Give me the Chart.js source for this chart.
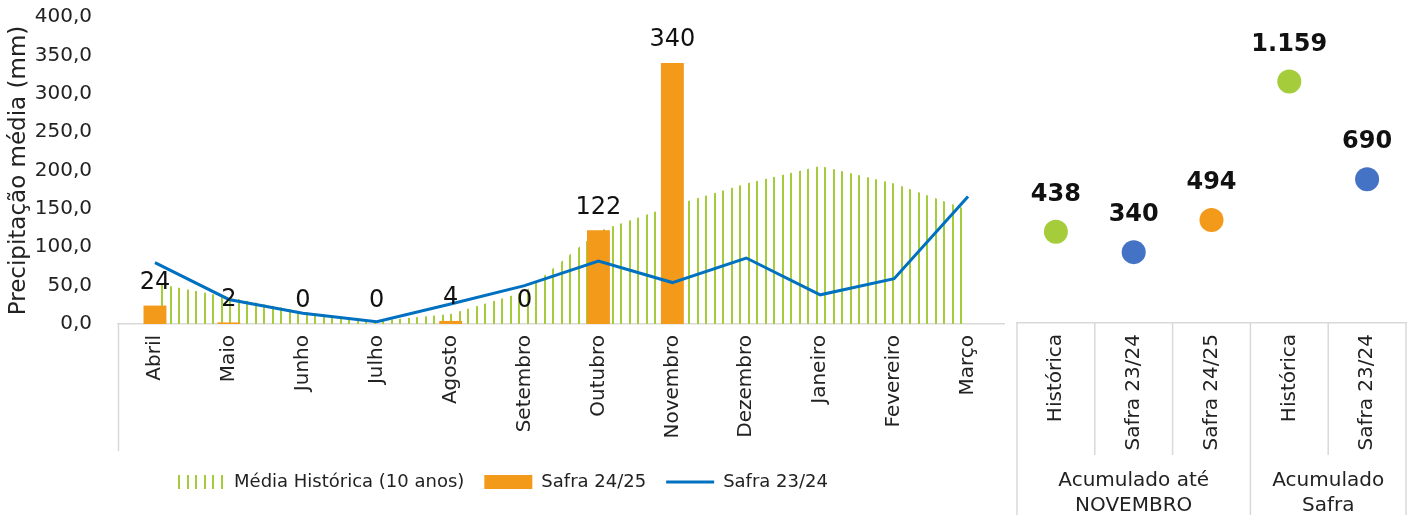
<!DOCTYPE html>
<html>
<head>
<meta charset="utf-8">
<script src="https://cdn.jsdelivr.net/npm/chart.js@4.4.1/dist/chart.umd.min.js"></script>
<style>
    body { margin: 0; background: #fff; }
    #wrap { position: relative; width: 1418px; height: 520px; }
    #leftBox { position: absolute; left: 0; top: 0; width: 1005px; height: 520px; }
    #rightBox { position: absolute; left: 1005px; top: 0; width: 413px; height: 520px; }
</style>
</head>
<body>
<div id="wrap">
    <div id="leftBox"><canvas id="monthChart"></canvas></div>
    <div id="rightBox"><canvas id="accChart"></canvas></div>
</div>
<script>
const months = ["Abril", "Maio", "Junho", "Julho", "Agosto", "Setembro", "Outubro", "Novembro", "Dezembro", "Janeiro", "Fevereiro", "Março"];
const mediaHistorica = [53, 35, 16, 4, 13, 42, 121, 154, 183, 206, 183, 149];
const safra2425 = [24, 2, 0, 0, 4, 0, 122, 340];
const safra2324 = [80, 32, 14, 3, 26, 50, 82, 54, 86, 38, 59, 166];

const accLabels = ["Histórica", "Safra 23/24", "Safra 24/25", "Histórica", "Safra 23/24"];
const accValues = [438, 340, 494, 1159, 690];
const accGroups = ["Acumulado até\nNOVEMBRO", "Acumulado\nSafra"];
const accGroupSizes = [3, 2];

const GREEN = "#A5CC3A";
const ORANGE = "#F39A1A";
const LINE_BLUE = "#0070C0";
const DOT_BLUE = "#4472C4";
const accColors = [GREEN, DOT_BLUE, ORANGE, GREEN, DOT_BLUE];
const FONT = "'DejaVu Sans', sans-serif";
const TEXT = "#222";
const GRID = "#d9d9d9";

function stripes() {
    const c = document.createElement("canvas");
    c.width = 17;
    c.height = 10;
    const g = c.getContext("2d");
    g.fillStyle = GREEN;
    g.fillRect(0, 0, 2, 10);
    g.fillRect(8, 0, 2, 10);
    return g.createPattern(c, "repeat");
}

function fmtThousands(v) {
    return String(v).replace(/\B(?=(\d{3})+(?!\d))/g, ".");
}

// bar labels + left border under the axis
const monthExtras = {
    id: "monthExtras",
    afterDatasetsDraw(chart) {
        const ctx = chart.ctx;
        const meta = chart.getDatasetMeta(1);
        ctx.save();
        ctx.font = "24px " + FONT;
        ctx.fillStyle = "#111";
        ctx.textAlign = "center";
        ctx.textBaseline = "middle";
        meta.data.forEach((bar, i) => {
            ctx.fillText(String(safra2425[i]), bar.x, bar.y - 23);
        });
        const a = chart.chartArea;
        ctx.strokeStyle = GRID;
        ctx.lineWidth = 1.5;
        ctx.beginPath();
        ctx.moveTo(a.left + 0.5, a.bottom);
        ctx.lineTo(a.left + 0.5, a.bottom + 127);
        ctx.stroke();
        ctx.restore();
    }
};

const accExtras = {
    id: "accExtras",
    afterDatasetsDraw(chart) {
        const ctx = chart.ctx;
        const meta = chart.getDatasetMeta(0);
        const a = chart.chartArea;
        const xs = chart.scales.x;
        ctx.save();
        ctx.font = "bold 24px " + FONT;
        ctx.fillStyle = "#111";
        ctx.textAlign = "center";
        ctx.textBaseline = "middle";
        meta.data.forEach((pt, i) => {
            ctx.fillText(fmtThousands(accValues[i]), pt.x, pt.y - 37);
        });

        // separators
        const n = accLabels.length;
        const bounds = [a.left];
        for (let i = 1; i < n; i++) {
            bounds.push((xs.getPixelForTick(i - 1) + xs.getPixelForTick(i)) / 2);
        }
        bounds.push(a.right);
        const groupEdges = [0];
        accGroupSizes.forEach(s => groupEdges.push(groupEdges[groupEdges.length - 1] + s));
        ctx.strokeStyle = GRID;
        ctx.lineWidth = 1.5;
        bounds.forEach((x, i) => {
            const long = groupEdges.includes(i);
            const xx = Math.min(Math.max(x, 0.75), chart.width - 0.75);
            ctx.beginPath();
            ctx.moveTo(xx, a.bottom);
            ctx.lineTo(xx, long ? chart.height - 5 : a.bottom + 132);
            ctx.stroke();
        });

        // group labels
        ctx.font = "20px " + FONT;
        ctx.fillStyle = TEXT;
        accGroups.forEach((g, k) => {
            const cx = (bounds[groupEdges[k]] + bounds[groupEdges[k + 1]]) / 2;
            g.split("\n").forEach((line, j) => {
                ctx.fillText(line, cx, a.bottom + 158 + j * 25);
            });
        });
        ctx.restore();
    }
};

const tickFont = { family: FONT, size: 20 };

new Chart(document.getElementById("monthChart"), {
    data: {
        labels: months,
        datasets: [
            {
                type: "line",
                label: "Média Histórica (10 anos)",
                data: mediaHistorica,
                backgroundColor: stripes(),
                borderColor: "rgba(0,0,0,0)",
                borderWidth: 0,
                fill: "origin",
                pointRadius: 0,
                pointStyle: "rect",
                tension: 0,
                order: 3
            },
            {
                type: "bar",
                label: "Safra 24/25",
                data: safra2425,
                backgroundColor: ORANGE,
                barPercentage: 0.31,
                categoryPercentage: 1,
                pointStyle: "rect",
                order: 2
            },
            {
                type: "line",
                label: "Safra 23/24",
                data: safra2324,
                borderColor: LINE_BLUE,
                backgroundColor: LINE_BLUE,
                borderWidth: 3,
                pointRadius: 0,
                pointStyle: "line",
                fill: false,
                tension: 0,
                order: 1
            }
        ]
    },
    options: {
        responsive: true,
        maintainAspectRatio: false,
        animation: false,
        layout: { padding: { top: 17, left: 0, right: 0, bottom: 19 } },
        plugins: {
            tooltip: { enabled: false },
            legend: {
                position: "bottom",
                labels: {
                    usePointStyle: true,
                    pointStyleWidth: 48,
                    boxHeight: 14,
                    padding: 20,
                    color: TEXT,
                    font: { family: FONT, size: 18 },
                    sort: (a, b) => a.datasetIndex - b.datasetIndex
                }
            }
        },
        scales: {
            x: {
                offset: true,
                grid: { display: false },
                border: { color: GRID, width: 1.5 },
                ticks: {
                    color: TEXT,
                    font: tickFont,
                    minRotation: 90,
                    maxRotation: 90,
                    autoSkip: false,
                    padding: 3
                },
                afterFit(scale) { scale.height = 129; }
            },
            y: {
                min: 0,
                max: 400,
                grid: { display: false },
                border: { display: false },
                ticks: {
                    stepSize: 50,
                    color: TEXT,
                    font: tickFont,
                    padding: 18,
                    callback: v => v.toFixed(1).replace(".", ",")
                },
                title: {
                    display: true,
                    text: "Precipitação média (mm)",
                    color: TEXT,
                    font: { family: FONT, size: 23 },
                    padding: { top: 5, bottom: 0 }
                },
                afterFit(scale) {
                    scale.width = 118;
                    scale.paddingTop = 10;
                    scale.paddingBottom = 10;
                }
            }
        }
    },
    plugins: [monthExtras]
});

new Chart(document.getElementById("accChart"), {
    type: "line",
    data: {
        labels: accLabels,
        datasets: [{
            label: "Acumulado",
            data: accValues,
            showLine: false,
            pointRadius: 12,
            pointHoverRadius: 12,
            pointBorderWidth: 0,
            pointBackgroundColor: accColors,
            pointBorderColor: accColors
        }]
    },
    options: {
        responsive: true,
        maintainAspectRatio: false,
        animation: false,
        layout: { padding: { top: 17, left: 0, right: 6, bottom: 0 } },
        plugins: {
            legend: { display: false },
            tooltip: { enabled: false }
        },
        scales: {
            x: {
                offset: true,
                grid: { display: false },
                border: { color: GRID, width: 1.5 },
                ticks: {
                    color: TEXT,
                    font: tickFont,
                    minRotation: 90,
                    maxRotation: 90,
                    autoSkip: false,
                    padding: 3
                },
                afterFit(scale) { scale.height = 197; }
            },
            y: {
                display: false,
                min: 0,
                max: 1468
            }
        }
    },
    plugins: [accExtras]
});
</script>
</body>
</html>
